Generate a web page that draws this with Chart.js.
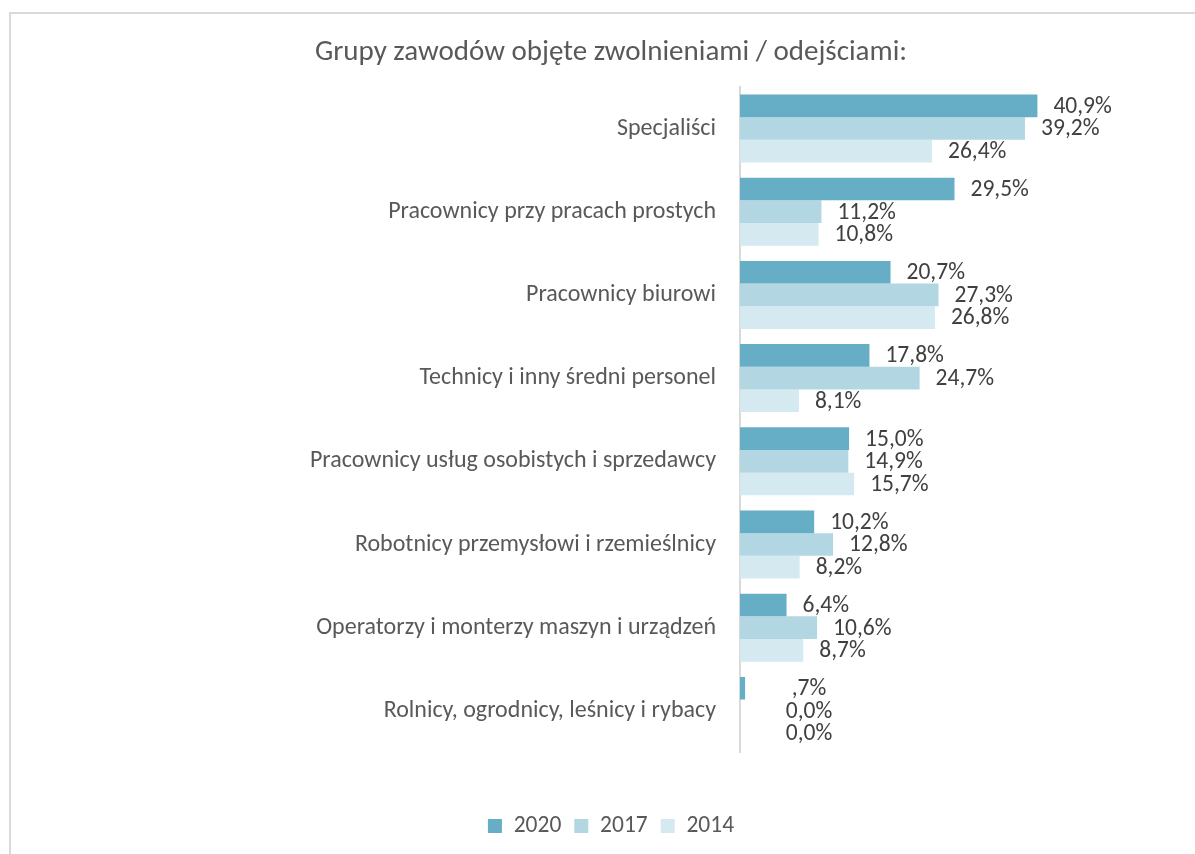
<!DOCTYPE html>
<html lang="pl">
<head>
<meta charset="utf-8">
<title>Grupy zawodów objęte zwolnieniami / odejściami</title>
<script src="https://cdn.jsdelivr.net/npm/chart.js@4.4.1/dist/chart.umd.min.js"></script>
<style>
  html, body { margin: 0; padding: 0; background: #ffffff; overflow: hidden; width: 1195px; height: 854px; }
  #frame {
    position: absolute; left: 9px; top: 12px; width: 1300px; height: 1000px;
    border-left: 2px solid #d9d9d9; border-top: 2px solid #d9d9d9;
  }
  #wrap { position: absolute; left: 0; top: 0; width: 1222px; height: 854px; }
</style>
</head>
<body>
<div id="frame"></div>
<div id="wrap"><canvas id="chart"></canvas></div>
<script>
// Occupational groups (rows of the chart)
const categories = [
  'Specjaliści',
  'Pracownicy przy pracach prostych',
  'Pracownicy biurowi',
  'Technicy i inny średni personel',
  'Pracownicy usług osobistych i sprzedawcy',
  'Robotnicy przemysłowi i rzemieślnicy',
  'Operatorzy i monterzy maszyn i urządzeń',
  'Rolnicy, ogrodnicy, leśnicy i rybacy'
];

// Share of companies reporting layoffs / departures, in percent
const values2020 = [40.9, 29.5, 20.7, 17.8, 15.0, 10.2, 6.4, 0.7];
const values2017 = [39.2, 11.2, 27.3, 24.7, 14.9, 12.8, 10.6, 0.0];
const values2014 = [26.4, 10.8, 26.8, 8.1, 15.7, 8.2, 8.7, 0.0];

const seriesLabels = ['2020', '2017', '2014'];
const seriesColors = ['#65aec6', '#b3d7e2', '#d5e9f0'];

const FONT = 'Carlito, Lato, "Open Sans", sans-serif';
const TEXT_GREY = '#595959';

// "40,9%", ",7%", "0,0%"
function formatPercent(v) {
  let s = v.toFixed(1).replace('.', ',');
  if (v > 0 && v < 1) s = s.replace(/^0/, '');
  return s + '%';
}

// Value labels to the right of each bar
const valueLabels = {
  id: 'valueLabels',
  afterDatasetsDraw(chart) {
    const ctx = chart.ctx;
    const x0 = chart.scales.x.getPixelForValue(0);
    ctx.save();
    ctx.font = '23.5px ' + FONT;
    ctx.fillStyle = '#404040';
    ctx.textAlign = 'left';
    ctx.textBaseline = 'middle';
    chart.data.datasets.forEach((ds, di) => {
      chart.getDatasetMeta(di).data.forEach((bar, i) => {
        const txt = formatPercent(ds.data[i]);
        const w = ctx.measureText(txt).width;
        const x = Math.max(bar.x + 16, x0 + 69 - w / 2);
        ctx.fillText(txt, x, bar.y + 1);
      });
    });
    ctx.restore();
  }
};

const seriesData = [values2020, values2017, values2014];

new Chart(document.getElementById('chart'), {
  type: 'bar',
  data: {
    labels: categories,
    datasets: seriesLabels.map((name, k) => ({
      label: name,
      data: seriesData[k],
      backgroundColor: seriesColors[k],
      borderWidth: 0,
      categoryPercentage: 0.817,
      barPercentage: 1.0
    }))
  },
  options: {
    indexAxis: 'y',
    responsive: true,
    maintainAspectRatio: false,
    animation: false,
    layout: { padding: { left: 0, right: 0, top: 0, bottom: 6.25 } },
    scales: {
      x: {
        min: 0,
        max: 50,
        display: true,
        grid: { display: false },
        border: { display: false },
        ticks: { display: false },
        afterFit(scale) { scale.height = 48.75; }
      },
      y: {
        grid: { display: false, drawTicks: false },
        border: { display: true, color: '#d9d9d9', width: 2 },
        ticks: {
          color: TEXT_GREY,
          font: { family: FONT, size: 24 },
          padding: 24
        },
        afterFit(scale) { scale.width = 740; }
      },
      // empty strip on the right that leaves room for the value labels
      yRight: {
        type: 'category',
        axis: 'y',
        position: 'right',
        display: true,
        grid: { display: false, drawTicks: false },
        border: { display: false },
        ticks: { display: false },
        afterFit(scale) { scale.width = 118.4; }
      }
    },
    plugins: {
      title: {
        display: true,
        text: 'Grupy zawodów objęte zwolnieniami / odejściami:',
        color: TEXT_GREY,
        font: { family: FONT, size: 29, weight: 'normal', lineHeight: 1.2 },
        padding: { top: 35.6, bottom: 16.5 }
      },
      legend: {
        position: 'bottom',
        labels: {
          color: TEXT_GREY,
          font: { family: FONT, size: 23.5 },
          boxWidth: 14,
          boxHeight: 14,
          padding: 13
        }
      },
      tooltip: { enabled: false }
    }
  },
  plugins: [valueLabels]
});
</script>
</body>
</html>
